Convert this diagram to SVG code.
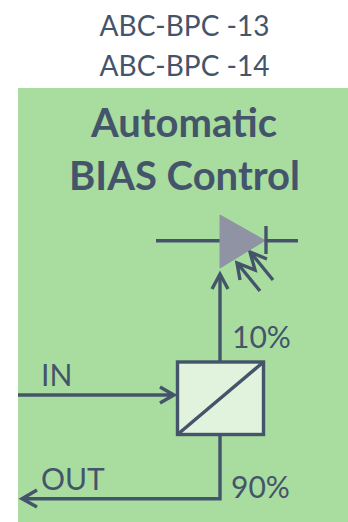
<svg xmlns="http://www.w3.org/2000/svg" width="348" height="522" viewBox="0 0 348 522">
<style>
text{font-family:"Lato","Open Sans",sans-serif;fill:#44546a}
.h{font-size:28px;text-anchor:middle}
.t{font-size:40px;font-weight:700;text-anchor:middle}
.l{font-size:30px}
.c{fill:none;stroke:#44546a;stroke-width:3.4}
</style>
<rect width="348" height="522" fill="#fff"/>
<rect id="panel" x="18" y="88" width="330" height="434" fill="#a8dd9f"/>
<g id="titles">
<text class="h" x="184.500" y="36">ABC-BPC -13</text>
<text class="h" x="184.500" y="76">ABC-BPC -14</text>
<text class="t" x="184" y="137">Automatic</text>
<text class="t" x="184.500" y="190">BIAS Control</text>
</g>
<g id="connectors">
<path class="c" d="M156 240.700H220M265 240.700H298"/>
<path class="c" d="M220 361V275"/>
<path class="c" d="M212 289L220 274L228 289"/>
<path class="c" d="M18 395H174M160 387L174 395L160 403"/>
<path class="c" d="M220 434V498.700H22M37 490L22 498.700L37 507"/>
<path class="c" d="M260 291L238 264M240 280L237 263L255 270L250 252L267 259"/>
<path class="c" d="M273 280L251 253"/>
</g>
<g id="diode">
<path d="M220 215L265 240.500L220 268Z" fill="#8f93a3" stroke="#8f93a3" stroke-linejoin="round"/>
<path class="c" d="M266 226V254"/>
</g>
<g id="splitter">
<rect x="177.500" y="362" width="86" height="72.500" fill="#e2f3dd" stroke="#44546a" stroke-width="3.400"/>
<path class="c" d="M177.500 434.500L263.500 362"/>
</g>
<g id="labels">
<text class="l" x="232" y="348">10%</text>
<text class="l" x="41" y="386">IN</text>
<text class="l" x="41" y="490">OUT</text>
<text class="l" x="231" y="498">90%</text>
</g>
</svg>
